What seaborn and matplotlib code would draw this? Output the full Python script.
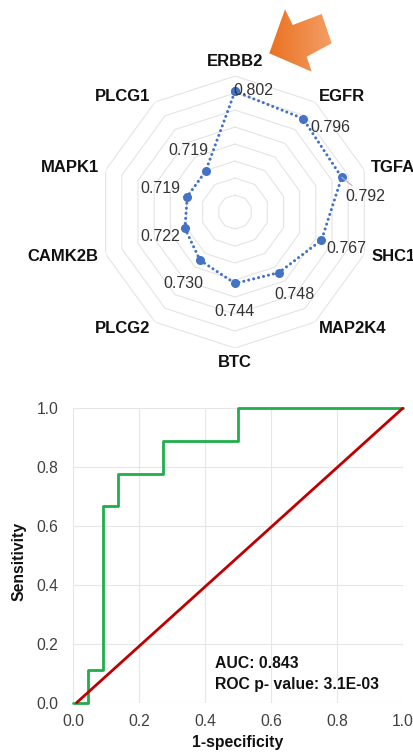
import numpy as np
import pandas as pd
import matplotlib
matplotlib.use("Agg")
import matplotlib.pyplot as plt
import seaborn as sns
from matplotlib.patches import Polygon
from matplotlib.colors import LinearSegmentedColormap

# ---- radar data: single-gene AUC values ----
genes = ["ERBB2", "EGFR", "TGFA", "SHC1", "MAP2K4",
         "BTC", "PLCG2", "CAMK2B", "MAPK1", "PLCG1"]
gene_auc = [0.802, 0.796, 0.792, 0.767, 0.748,
            0.744, 0.730, 0.722, 0.719, 0.719]
ring_levels = [0.68, 0.70, 0.72, 0.74, 0.76, 0.78, 0.80, 0.82]
radial_min = 0.66

# ---- ROC curve data ----
fpr = [0.0, 0.045, 0.045, 0.091, 0.091, 0.136, 0.136,
       0.273, 0.273, 0.5, 0.5, 1.0]
tpr = [0.0, 0.0, 0.111, 0.111, 0.667, 0.667, 0.778,
       0.778, 0.889, 0.889, 1.0, 1.0]
chance_x = [0.01, 1.0]
chance_y = [0.0, 1.0]
roc_ticks = [0.0, 0.2, 0.4, 0.6, 0.8, 1.0]
auc_text = "AUC: 0.843"
pval_text = "ROC p- value: 3.1E-03"

sns.set_theme(style="white")
plt.rcParams["font.family"] = ["Liberation Sans", "DejaVu Sans"]

fig = plt.figure(figsize=(4.13, 7.53), dpi=100)

# ================= radar chart =================
rax = fig.add_axes([0.2397, 0.5378, 0.6586, 0.3612], projection="polar")
rax.set_theta_zero_location("N")
rax.set_theta_direction(-1)

n = len(genes)
theta = np.linspace(0, 2 * np.pi, n, endpoint=False)
closed_theta = np.append(theta, theta[0])

for lvl in ring_levels:
    rax.plot(closed_theta, [lvl] * (n + 1), color="#e4e4e4", lw=0.8, zorder=1)

radar_df = pd.DataFrame({"theta": closed_theta,
                         "auc": gene_auc + gene_auc[:1]})
sns.lineplot(data=radar_df, x="theta", y="auc", sort=False, estimator=None,
             ax=rax, color="#4472c4", lw=2.2,
             linestyle=(0, (0.01, 1.65)), dash_capstyle="round",
             marker="o", markersize=6.5, markeredgewidth=0, zorder=3)

rax.set_ylim(radial_min, ring_levels[-1])
rax.set_xticks([])
rax.set_yticks([])
rax.grid(False)
rax.spines["polar"].set_visible(False)
rax.patch.set_alpha(0)
rax.set_xlabel("")
rax.set_ylabel("")

# category names just outside the outer ring
label_r = radial_min + (ring_levels[-1] - radial_min) * 1.054
for ang, g in zip(theta, genes):
    s, c = np.sin(ang), np.cos(ang)
    if abs(s) < 0.1:
        ha, va = "center", ("bottom" if c > 0 else "top")
    else:
        ha, va = ("left" if s > 0 else "right"), "center"
    rax.text(ang, label_r, g, ha=ha, va=va, fontsize=12,
             fontweight="bold", color="#111111")

# value labels (pixel offsets from each point)
value_offsets = [(18, 1), (27, -9), (24, -19), (25, -8), (16, -22),
                 (0, -28), (-17, -23), (-25, -8), (-27, 8), (-17, 21)]
for ang, v, g, off in zip(theta, gene_auc, genes, value_offsets):
    arrow = None
    if g == "TGFA":
        arrow = dict(arrowstyle="-", color="#b5b5b5", lw=0.8,
                     shrinkA=0, shrinkB=0)
    rax.annotate(f"{v:.3f}", xy=(ang, v), xytext=off,
                 textcoords="offset pixels", ha="center", va="center",
                 fontsize=11.5, color="#333333", arrowprops=arrow,
                 annotation_clip=False)

# ================= ROC curve =================
ax = fig.add_axes([0.1775, 0.0668, 0.7976, 0.391])
sns.lineplot(x=fpr, y=tpr, sort=False, estimator=None, ax=ax,
             color="#1fae4b", lw=2.0, clip_on=False, zorder=3)
sns.lineplot(x=chance_x, y=chance_y, sort=False, estimator=None, ax=ax,
             color="#c00000", lw=2.0, clip_on=False, zorder=4)
ax.set_xlim(0, 1)
ax.set_ylim(0, 1)
ax.set_xticks(roc_ticks)
ax.set_yticks(roc_ticks)
ax.set_xticklabels([f"{t:.1f}" for t in roc_ticks])
ax.set_yticklabels([f"{t:.1f}" for t in roc_ticks])
ax.grid(True, color="#e6e6e6", lw=0.8)
ax.set_axisbelow(True)
for sp in ax.spines.values():
    sp.set_visible(False)
ax.tick_params(axis="both", length=0, labelsize=11.3, labelcolor="#404040")
ax.tick_params(axis="x", pad=8)
ax.tick_params(axis="y", pad=10.8)
ax.set_xlabel("1-specificity", fontsize=11.3, fontweight="bold", color="#111111")
ax.set_ylabel("Sensitivity", fontsize=11.3, fontweight="bold", color="#111111")
ax.xaxis.set_label_coords(0.5, -0.11)
ax.yaxis.set_label_coords(-0.143, 0.48)

ax.text(0.43, 0.1315, auc_text, fontsize=11.3, fontweight="bold",
        color="#111111", va="center", ha="left")
ax.text(0.43, 0.0635, pval_text, fontsize=11.3, fontweight="bold",
        color="#111111", va="center", ha="left")

# ================= highlight arrow pointing at ERBB2 =================
ov = fig.add_axes([0, 0, 1, 1], zorder=5)
ov.set_xlim(0, 413)
ov.set_ylim(753, 0)
ov.axis("off")
ov.patch.set_alpha(0)
arrow_shape = [(269.3, 53.3), (285.0, 9.3), (292.7, 25.0), (321.7, 14.0),
               (331.7, 43.3), (306.7, 56.7), (311.7, 71.7)]
poly = Polygon(arrow_shape, closed=True, facecolor="none", edgecolor="none")
ov.add_patch(poly)
grad_cmap = LinearSegmentedColormap.from_list("orange_grad", ["#ea6f1c", "#f4a06a"])
grad = np.linspace(0, 1, 256).reshape(1, -1)
img = ov.imshow(grad, cmap=grad_cmap, extent=(265, 335, 75, 5),
                aspect="auto", zorder=6)
img.set_clip_path(poly)

fig.savefig("out.png", dpi=100)
